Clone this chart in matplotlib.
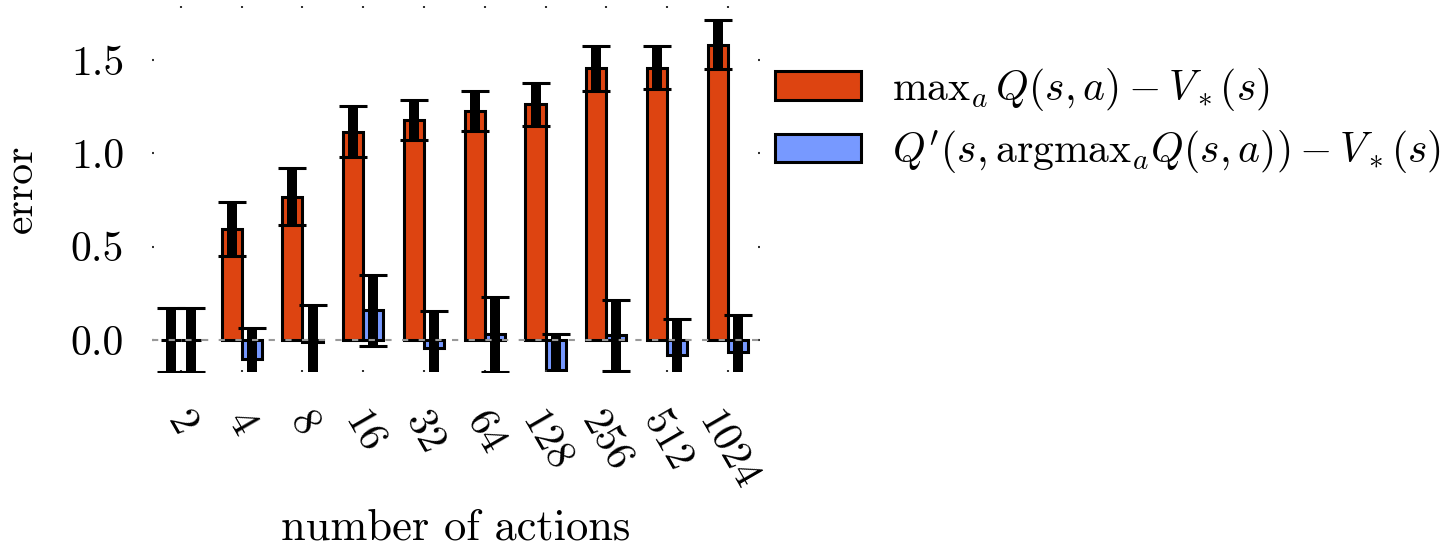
import numpy as np
import matplotlib
matplotlib.use("Agg")
import matplotlib.pyplot as plt

plt.rcParams['font.family'] = 'serif'
plt.rcParams['font.serif'] = ['cmr10']
plt.rcParams['mathtext.fontset'] = 'cm'
plt.rcParams['axes.formatter.use_mathtext'] = True

# data
actions = ['2', '4', '8', '16', '32', '64', '128', '256', '512', '1024']
max_err = [0.0, 0.595, 0.768, 1.117, 1.18, 1.226, 1.262, 1.455, 1.46, 1.583]
max_std = [0.17, 0.145, 0.153, 0.137, 0.108, 0.106, 0.116, 0.123, 0.116, 0.131]
dbl_err = [0.0, -0.10, -0.01, 0.16, -0.045, 0.03, -0.16, 0.024, -0.08, -0.065]
dbl_std = [0.17, 0.163, 0.195, 0.19, 0.2, 0.2, 0.19, 0.19, 0.19, 0.2]

red = '#dd4411'
blue = '#7799ff'

fig = plt.figure(figsize=(14.45, 5.5), dpi=100)
ax = fig.add_axes([152/1445, 1 - 372/550, 608/1445, 366/550])

x = np.arange(len(actions))
w = 0.33
ekw = dict(elinewidth=7.2, capsize=10, capthick=2.2, ecolor='black')
ax.bar(x - w/2, max_err, w, yerr=max_std, color=red, edgecolor='black',
       linewidth=2.2, error_kw=ekw, label=r'$\mathrm{max}_a\, Q(s,a) - V_*(s)$')
ax.bar(x + w/2, dbl_err, w, yerr=dbl_std, color=blue, edgecolor='black',
       linewidth=2.2, error_kw=ekw,
       label=r"$Q'(s,\mathrm{argmax}_a Q(s,a)) - V_*(s)$")

# zero reference line
ax.axhline(0, color='#999999', lw=1.5, ls='--', dashes=(3, 5), zorder=5)

ax.set_xlim(-0.477, 9.53)
ax.set_ylim(-0.172, 1.79)
ax.set_yticks([0.0, 0.5, 1.0, 1.5])
ax.set_yticklabels(['0.0', '0.5', '1.0', '1.5'])
ax.set_xticks(x)
ax.set_xticklabels(actions, rotation=-60, ha='center', va='top')

for s in ax.spines.values():
    s.set_visible(False)
ax.tick_params(direction='in', length=1.5, width=1.5, color='#333333',
               top=True, right=True, labelsize=30)
ax.tick_params(axis='y', pad=20)
ax.tick_params(axis='x', pad=24)

ax.set_xlabel('number of actions', fontsize=32, labelpad=9)
ax.set_ylabel('error', fontsize=30, labelpad=22)

ax.legend(loc='upper left', bbox_to_anchor=(775/1445, 1 - 66/550),
          bbox_transform=fig.transFigure, frameon=False, fontsize=30,
          borderpad=0, borderaxespad=0, handlelength=2.07, handleheight=0.67,
          handletextpad=0.74, labelspacing=0.36)

fig.savefig('out.png', dpi=100)
